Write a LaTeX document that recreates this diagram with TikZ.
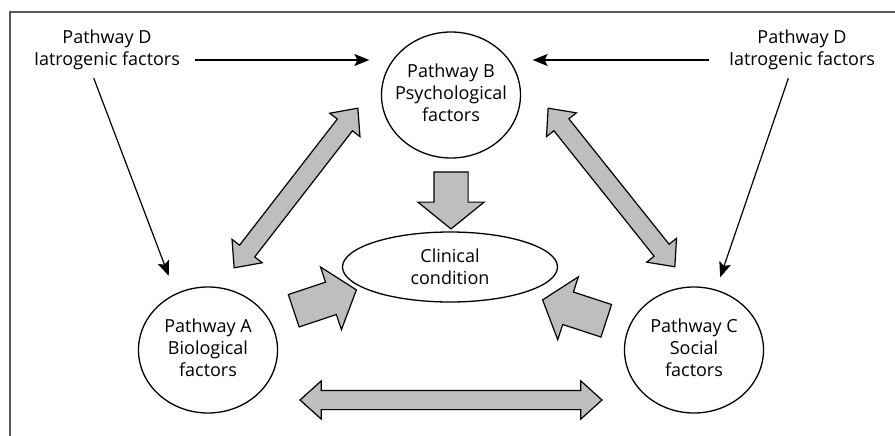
\documentclass[tikz,border=0pt]{standalone}
\usepackage{fontspec}
\setmainfont{Open Sans}
\usetikzlibrary{arrows.meta,shapes.geometric,shapes.arrows}

\definecolor{fatgray}{HTML}{BCBEC0}
\definecolor{framegray}{HTML}{5A5A5A}

\newcommand*{\ctext}[1]{\makebox[0pt]{\begin{tabular}{@{}c@{}}#1\end{tabular}}}

\begin{document}
\begin{tikzpicture}
[
	x=1pt,y=-1pt,
	every node/.style={font=\fontsize{18}{22}\selectfont},
	pathway/.style={ellipse,draw,line width=1.3pt,minimum width=139pt,minimum height=126pt,inner sep=0pt},
	thinarrow/.style={-{Stealth[length=15pt,width=12pt,inset=3pt]},line width=1.2pt},
	fatsingle/.style={single arrow,draw,fill=fatgray,line width=1.2pt,inner xsep=0pt,inner ysep=16.5pt,
		single arrow head extend=16pt,single arrow tip angle=102,
		midway,sloped,allow upside down},
	fatdouble/.style={double arrow,draw,fill=fatgray,line width=1.2pt,inner xsep=0pt,inner ysep=9pt,
		double arrow head extend=9.5pt,double arrow tip angle=84,
		midway,sloped,allow upside down}
]

	\useasboundingbox (0,0) rectangle (895,436);

	% frame
	\draw[framegray,line width=1.5pt] (10,436) -- (10,12) -- (895,12);

	% pathways
	\node[pathway] (B) at (451,95) {\ctext{Pathway B\\Psychological\\factors}};
	\node[pathway] (A) at (208,350) {\ctext{Pathway A\\Biological\\factors}};
	\node[pathway] (C) at (694,350) {\ctext{Pathway C\\Social\\factors}};
	\node[ellipse,draw,line width=1.3pt,minimum width=215pt,minimum height=70pt,inner sep=0pt,align=center]
		(clin) at (450,267) {Clinical\\condition};

	% iatrogenic labels
	\node[align=center] (dl) at (107,50) {Pathway D\\Iatrogenic factors};
	\node[align=center] (dr) at (802,50) {Pathway D\\Iatrogenic factors};

	% thin arrows
	\draw[thinarrow,shorten <=12pt,shorten >=11.5pt] ([yshift=-10pt]dl.east) -- ([yshift=-10pt]dl.east -| B.west);
	\draw[thinarrow,shorten <=17pt,shorten >=11.5pt] ([yshift=-10pt]dr.west) -- ([yshift=-10pt]dr.west -| B.east);
	\draw[thinarrow,shorten <=5pt,shorten >=19pt] ([xshift=-15pt]dl.south) -- (A.120);
	\draw[thinarrow,shorten <=5pt,shorten >=13pt] ([xshift=-12pt]dr.south) -- (C.70);

	% fat arrow ends
	\coordinate (ba1) at (234,268);
	\coordinate (ba2) at (358,108);
	\coordinate (bc1) at (548,108);
	\coordinate (bc2) at (675,267);
	\coordinate (bd1) at (451,165);
	\coordinate (bd2) at (451,222);
	\coordinate (ad1) at (287,313);
	\coordinate (ad2) at (350,292);
	\coordinate (cd1) at (613,323);
	\coordinate (cd2) at (549,302);
	\coordinate (ac1) at (300,400);
	\coordinate (ac2) at (602,400);

	% fat arrows
	\path (ba1) -- (ba2) node[fatdouble,minimum height=202pt] (ba) {};
	\path (bc1) -- (bc2) node[fatdouble,minimum height=203pt] (bc) {};
	\path (ac1) -- (ac2) node[fatdouble,minimum height=302pt] (ac) {};
	\path (bd1) -- (bd2) node[fatsingle,minimum height=57pt] (bd) {};
	\path (ad1) -- (ad2) node[fatsingle,minimum height=66pt] (ad) {};
	\path (cd1) -- (cd2) node[fatsingle,minimum height=67pt] (cd) {};

\end{tikzpicture}
\end{document}
